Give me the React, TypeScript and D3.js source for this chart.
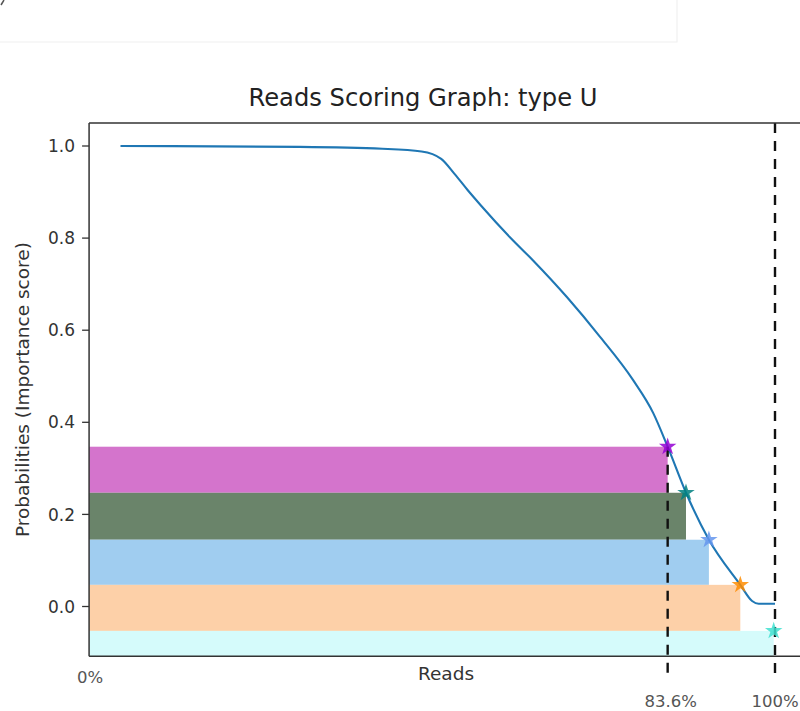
import React from "react";
import * as d3 from "d3";

// Share of reads (0..1) and the importance probability along the sorted reads
const readsFrac = [0, 0.274, 0.4, 0.46, 0.49, 0.51, 0.53, 0.55, 0.595, 0.63, 0.682, 0.733, 0.783, 0.814, 0.836, 0.864, 0.899, 0.947, 0.965, 0.975, 1.0];
const probability = [1.0, 0.998, 0.994, 0.988, 0.972, 0.94, 0.905, 0.872, 0.802, 0.752, 0.672, 0.585, 0.492, 0.42, 0.347, 0.247, 0.145, 0.047, 0.012, 0.006, 0.006];

// Threshold markers and the bands they define
const markerX = [0.836, 0.864, 0.899, 0.947, 0.998];
const markerY = [0.347, 0.247, 0.145, 0.047, -0.053];
const bandColors = ["#d474cc", "#6a846a", "#a0cdf0", "#fdd0a8", "#d5fbfb"];
const markerColors = ["#9400d3", "#008080", "#6495ed", "#ff8c00", "#40e0d0"];

const yTicks = [0.0, 0.2, 0.4, 0.6, 0.8, 1.0];
const cutoffs = [0.836, 1.0];
const cutoffLabels = ["83.6%", "100%"];

const W = 800;
const H = 711;
const xLim: [number, number] = [-0.048, 1.05];
const yLim: [number, number] = [-0.108, 1.05];

export default function App() {
  const x = d3.scaleLinear().domain([0, 1]).range([120.5, 775]);
  const y = d3.scaleLinear().domain([0, 1]).range([606.5, 146]);
  const left = x(xLim[0]);
  const right = x(xLim[1]);
  const top = y(yLim[1]);
  const bottom = y(yLim[0]);

  const line = d3
    .line<number>()
    .x((_, i) => x(readsFrac[i]))
    .y((d) => y(d))
    .curve(d3.curveMonotoneX);

  const star = d3.symbol().type(d3.symbolStar).size(95);
  const font = "DejaVu Sans, sans-serif";

  return (
    <div style={{ position: "absolute", left: 0, top: 0, width: W, height: H, overflow: "hidden", background: "#fff" }}>
      <svg width={W} height={H} style={{ display: "block" }} fontFamily={font}>
        {/* faint frame left over at the top of the figure */}
        <path d="M0,42 H677 V0" fill="none" stroke="#f0f0f0" strokeWidth={1.2} />
        <path d="M1,5 L4,0" stroke="#555" strokeWidth={1.5} />

        <text x={423} y={106} textAnchor="middle" fontSize={24.2} fill="#222">
          Reads Scoring Graph: type U
        </text>

        {markerX.map((mx, i) => {
          const yTop = y(markerY[i]);
          const yBot = i + 1 < markerY.length ? y(markerY[i + 1]) : bottom;
          return (
            <rect
              key={i}
              x={left}
              y={yTop}
              width={x(mx) - left}
              height={yBot - yTop}
              fill={bandColors[i]}
            />
          );
        })}
        <path d={line(probability) || ""} fill="none" stroke="#1f77b4" strokeWidth={2.1} />

        {/* cutoff guides, drawn past the axis down to the labels */}
        <line x1={x(cutoffs[0])} x2={x(cutoffs[0])} y1={y(markerY[0])} y2={677} stroke="#111" strokeWidth={2.4} strokeDasharray="10 8" />
        <line x1={x(cutoffs[1])} x2={x(cutoffs[1])} y1={top} y2={677} stroke="#111" strokeWidth={2.4} strokeDasharray="10 8" />

        {markerX.map((mx, i) => (
          <path
            key={i}
            d={star() || ""}
            transform={`translate(${x(mx)},${y(markerY[i])})`}
            fill={markerColors[i]}
            opacity={0.85}
          />
        ))}

        {/* axes spines: top, left, bottom; the right one lies past the edge */}
        <line x1={left} x2={right} y1={top} y2={top} stroke="#333" strokeWidth={1.5} />
        <line x1={left} x2={left} y1={top} y2={bottom} stroke="#333" strokeWidth={1.5} />
        <line x1={left} x2={right} y1={bottom} y2={bottom} stroke="#333" strokeWidth={1.5} />

        {yTicks.map((t) => (
          <g key={t}>
            <line x1={left - 7} x2={left} y1={y(t)} y2={y(t)} stroke="#333" strokeWidth={1.3} />
            <text x={left - 14} y={y(t)} dy="0.36em" textAnchor="end" fontSize={17} fill="#333">
              {t.toFixed(1)}
            </text>
          </g>
        ))}

        <text
          transform={`translate(22,${(top + bottom) / 2})rotate(-90)`}
          textAnchor="middle"
          dy="0.36em"
          fontSize={18.5}
          fill="#333"
        >
          Probabilities (Importance score)
        </text>

        <text x={446} y={680} textAnchor="middle" fontSize={18.5} fill="#333">
          Reads
        </text>
        <text x={90} y={683} textAnchor="middle" fontSize={16.5} fill="#555">
          0%
        </text>
        {cutoffs.map((c, i) => (
          <text key={c} x={x(c) + (i === 0 ? 3 : 0)} y={707} textAnchor="middle" fontSize={16.5} fill="#555">
            {cutoffLabels[i]}
          </text>
        ))}
      </svg>
    </div>
  );
}
